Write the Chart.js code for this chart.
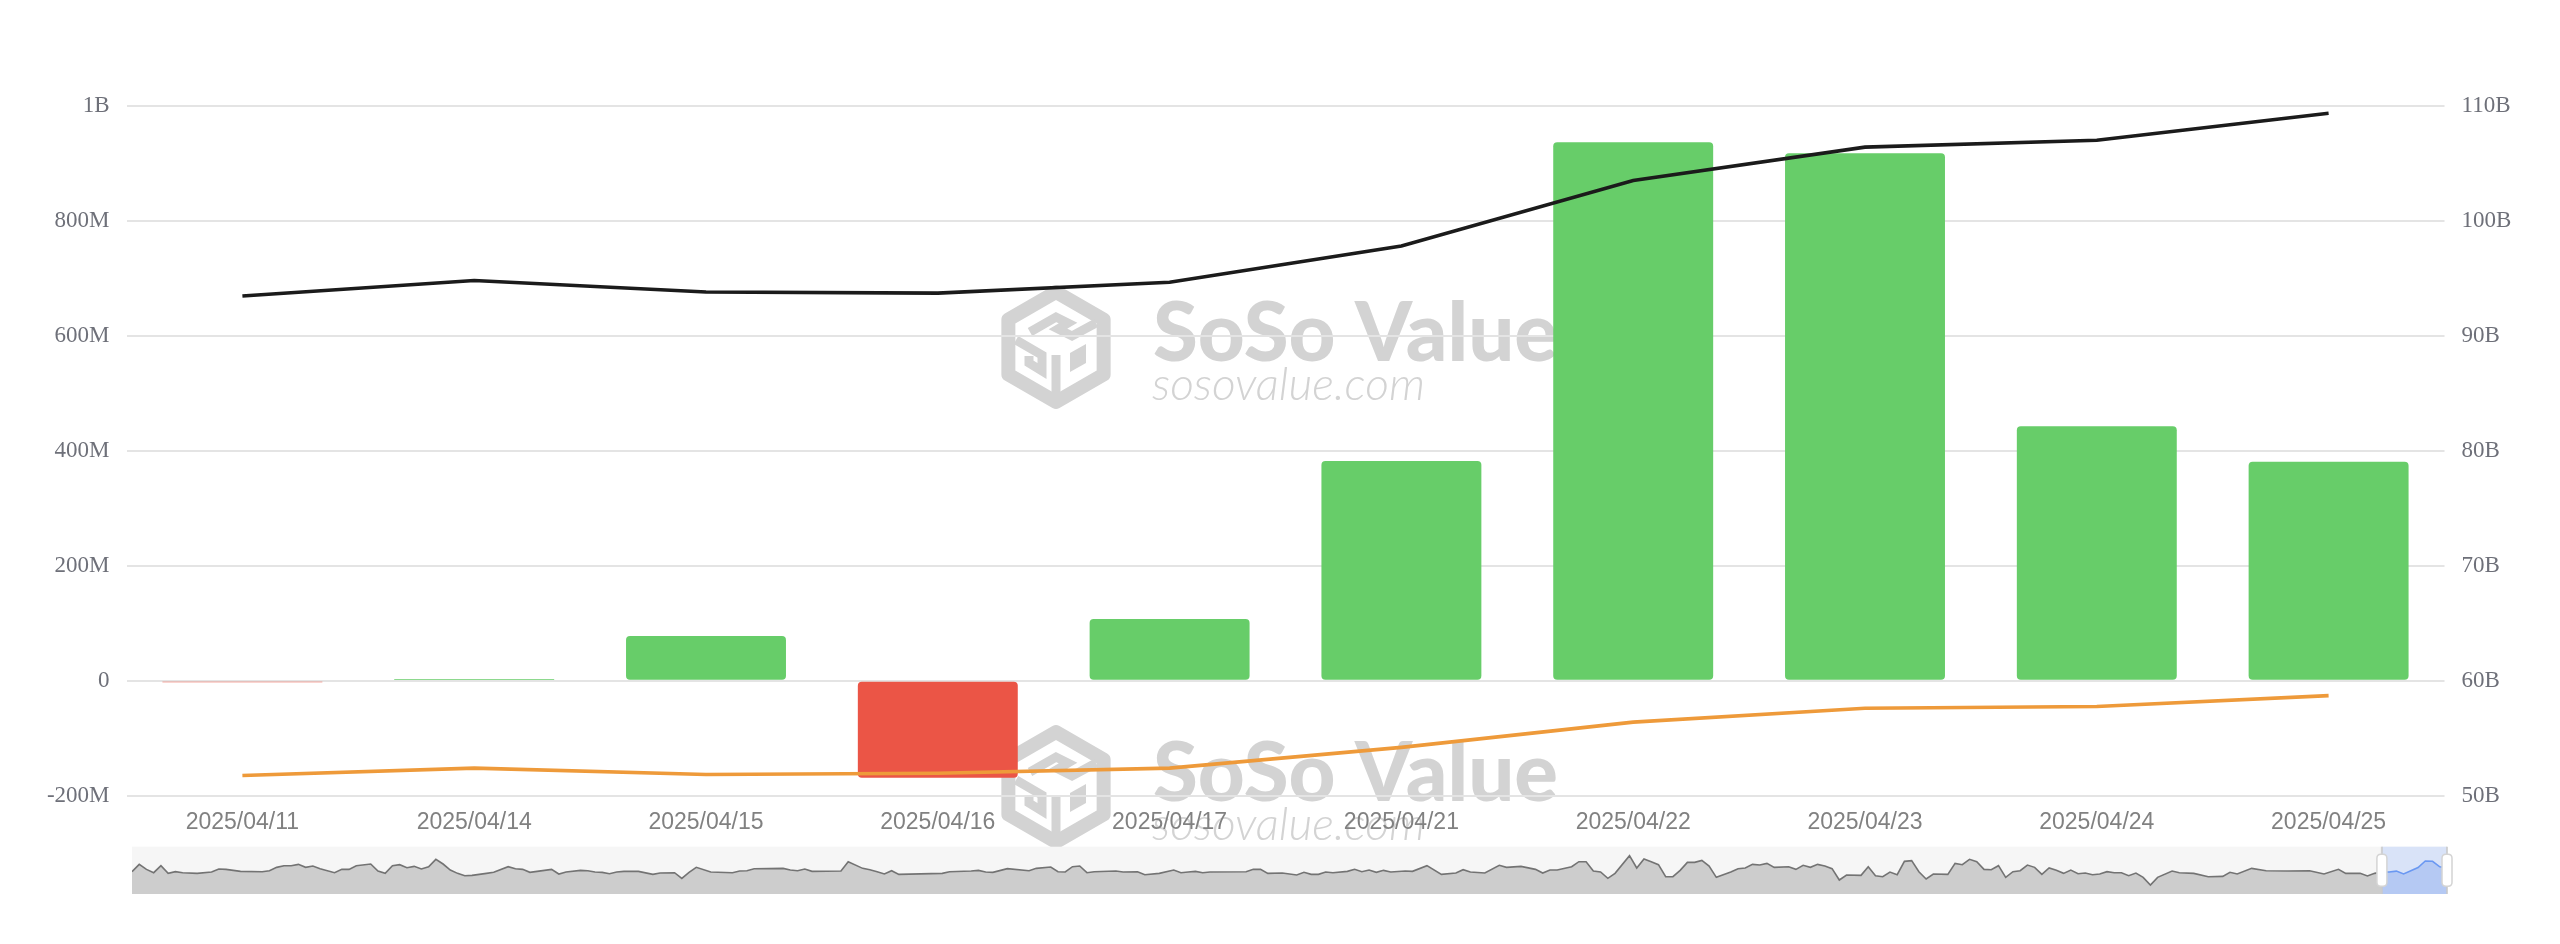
<!DOCTYPE html>
<html><head><meta charset="utf-8">
<script src="https://cdn.jsdelivr.net/npm/chart.js@4.4.1/dist/chart.umd.min.js"></script>
<style>
html,body{margin:0;padding:0;background:#fff;}
#wrap{position:relative;width:2560px;height:944px;overflow:hidden;}
#main{position:absolute;left:0;top:0;}
#mini{position:absolute;left:0;top:830px;}
</style></head><body>
<div id="wrap"><canvas id="main" width="2560" height="944"></canvas><canvas id="mini" width="2560" height="80"></canvas></div>
<script>
// ---- data ----
const categories = ['2025/04/11','2025/04/14','2025/04/15','2025/04/16','2025/04/17','2025/04/21','2025/04/22','2025/04/23','2025/04/24','2025/04/25'];
// daily total net inflow (USD millions), left axis
const netInflow = [-1.5, 1.5, 77.7, -168.7, 107.4, 381.9, 936.5, 917.1, 442.6, 380.6];
// total net assets (USD billions), right axis
const totalNetAssets = [93.45, 94.8, 93.8, 93.7, 94.65, 97.8, 103.5, 106.4, 107.0, 109.35];
// cumulative total net inflow (USD billions), right axis
const cumulativeInflow = [51.75, 52.4, 51.85, 51.95, 52.4, 54.2, 56.4, 57.6, 57.75, 58.7];
// axis ticks
const leftTicks = {min:-200, max:1000, step:200};
const rightTicks = {min:50, max:110, step:10};
// history shown in the zoom slider: trading-day index and daily net inflow (USD millions)
const miniDays = [0,1,2,3,4,5,6,7,9,11,12,13,15,18,19,20,21,22,23,24,25,26,28,29,30,31,33,34,35,36,37,38,39,40,41,42,43,44,45,46,47,49,50,52,53,54,55,56,58,59,60,62,63,64,65,66,67,68,70,
72,73,75,76,77,78,80,83,84,85,86,90,91,92,93,94,98,99,101,102,103,104,105,106,112,113,116,117,118,119,121,124,125,127,128,129,130,131,132,133,136,137,139,140,142,
144,145,146,147,148,149,154,155,156,157,159,161,162,163,164,165,166,168,169,170,171,172,173,174,176,177,179,181,183,184,185,187,189,190,192,194,195,196,197,199,200,201,202,203,204,205,207,208,209,210,211,212,213,214,
215,216,217,218,219,221,222,223,224,225,226,227,229,230,231,232,233,234,235,236,237,239,240,241,242,243,244,245,246,247,248,249,251,252,253,254,255,256,257,258,259,260,261,262,263,264,265,266,267,268,269,270,271,272,273,274,275,276,277,278,279,280,282,283,
285,287,289,290,291,293,295,298,301,303,305,306,308,309,310];
const miniFlow = [28,653,227,-57,540,-114,28,-57,-114,0,256,227,57,28,114,398,540,540,653,398,511,284,-57,227,227,540,682,85,-114,540,625,369,483,256,454,1079,682,170,-114,-312,-284,-114,-28,454,284,227,-28,57,227,-170,0,142,114,0,-28,-142,0,57,57,
-199,-85,-57,-540,-28,398,0,-57,85,114,284,312,170,114,256,57,85,880,312,199,28,-170,114,-199,-114,28,85,142,0,-28,284,114,312,426,28,0,454,511,-57,28,85,0,28,-227,-114,
170,-57,0,57,-57,0,28,227,227,-114,-85,-256,-28,-199,-199,0,-57,57,227,28,170,-28,142,0,85,57,540,-199,-85,199,0,-85,568,398,483,227,-85,170,170,454,880,880,85,0,-540,-114,1392,341,1108,880,625,-398,-398,142,
824,824,994,511,-454,0,284,341,653,596,738,398,454,227,568,398,653,511,284,-682,-256,-284,454,-312,-398,0,-227,909,966,28,-596,-170,-199,738,625,1079,880,227,199,540,-454,28,114,596,398,-199,341,142,-114,170,-142,-85,-227,-170,28,-57,-57,-312,-85,-454,-1108,-454,85,-57,
-114,-398,-369,-28,-170,312,114,85,114,-170,227,-114,-114,-341,-114];
const selectedStartDay = 311;
const miniRange = {xMin:0, xMax:320, yMin:-1874, yMax:2158};

// ---- helpers ----
function fmtLeft(v){
  if (v === 0) return '0';
  if (Math.abs(v) >= 1000) return (v/1000) + 'B';
  return v + 'M';
}

function drawLogo(ctx, cx, cy){
  ctx.save();
  ctx.translate(cx, cy);
  ctx.strokeStyle = '#d3d3d3';
  ctx.fillStyle = '#d3d3d3';
  ctx.lineJoin = 'round';
  ctx.lineCap = 'butt';
  const R = 55;
  ctx.lineWidth = 14;
  ctx.beginPath();
  for (let i = 0; i < 6; i++){
    const a = -Math.PI/2 + i*Math.PI/3;
    const px = R*Math.cos(a), py = R*Math.sin(a);
    if (i === 0) ctx.moveTo(px, py); else ctx.lineTo(px, py);
  }
  ctx.closePath();
  ctx.stroke();
  ctx.lineWidth = 9;
  ctx.lineJoin = 'miter';
  ctx.beginPath();
  ctx.moveTo(-26,-15); ctx.lineTo(0,-30); ctx.lineTo(12,-24); ctx.lineTo(2,-18); ctx.lineTo(16,-11); ctx.lineTo(40,-24);
  ctx.stroke();
  ctx.beginPath();
  ctx.moveTo(-40,-7); ctx.lineTo(-14,8); ctx.lineTo(-14,24); ctx.lineTo(-27,16); ctx.lineTo(-27,9);
  ctx.stroke();
  ctx.beginPath();
  ctx.moveTo(0,8); ctx.lineTo(0,48);
  ctx.stroke();
  ctx.beginPath();
  ctx.moveTo(14,6); ctx.lineTo(30,-3); ctx.lineTo(30,16); ctx.lineTo(14,25); ctx.closePath();
  ctx.fill();
  ctx.restore();
}

function fitFont(ctx, style, family, text, targetW, guess){
  ctx.font = style + ' ' + guess + 'px ' + family;
  const w = ctx.measureText(text).width;
  const size = guess * targetW / w;
  ctx.font = style + ' ' + size.toFixed(2) + 'px ' + family;
}

function drawWatermark(ctx, cy){
  drawLogo(ctx, 1056, cy);
  ctx.save();
  ctx.fillStyle = '#d3d3d3';
  ctx.textBaseline = 'alphabetic';
  ctx.textAlign = 'left';
  fitFont(ctx, '900', 'Lato, "Liberation Sans", sans-serif', 'SoSo Value', 405, 85);
  ctx.fillText('SoSo Value', 1153, cy + 14);
  fitFont(ctx, 'italic 300', 'Lato, "Liberation Sans", sans-serif', 'sosovalue.com', 273, 46);
  ctx.fillText('sosovalue.com', 1152, cy + 53);
  ctx.restore();
}

const watermarkPlugin = {
  id:'watermark',
  beforeDraw(chart){
    const ctx = chart.ctx;
    drawWatermark(ctx, 347);
    drawWatermark(ctx, 787);
  }
};

// ---- main chart ----
const barColors = netInflow.map(v => v >= 0 ? '#67CD69' : '#EB5546');
new Chart(document.getElementById('main'), {
  type:'bar',
  data:{
    labels: categories,
    datasets:[
      {type:'line', label:'Total Net Assets', data: totalNetAssets, yAxisID:'y1', borderColor:'#1b1b1b', borderWidth:3.6, pointRadius:0, tension:0, order:0},
      {type:'line', label:'Cumulative Total Net Inflow', data: cumulativeInflow, yAxisID:'y1', borderColor:'#EE9A3A', borderWidth:3.6, pointRadius:0, tension:0, order:0},
      {type:'bar', label:'Daily Total Net Inflow', data: netInflow, yAxisID:'y', backgroundColor: barColors,
       borderRadius: ctx => Math.abs(ctx.raw) < 10 ? 0 : 4, borderSkipped:false, minBarLength:1.6,
       barPercentage:0.69, categoryPercentage:1, order:1}
    ]
  },
  options:{
    responsive:false, devicePixelRatio:1, animation:false,
    layout:{padding:{left:0,right:0,top:105.7,bottom:0}},
    plugins:{legend:{display:false}, tooltip:{enabled:false}},
    scales:{
      x:{
        grid:{display:false, drawTicks:false}, border:{display:false},
        ticks:{font:{family:'"Liberation Sans", Arial, sans-serif', size:23}, color:'#818181', padding:13, maxRotation:0, autoSkip:false},
        afterFit(s){ s.height = 148.3; }
      },
      y:{
        position:'left', min:leftTicks.min, max:leftTicks.max,
        ticks:{stepSize:leftTicks.step, font:{family:'"Liberation Serif", "Times New Roman", serif', size:23}, color:'#6E7079', padding:17, callback: fmtLeft},
        grid:{color:'#e4e4e4', lineWidth:2, drawTicks:false}, border:{display:false},
        afterFit(s){ s.width = 126.5; }
      },
      y1:{
        position:'right', min:rightTicks.min, max:rightTicks.max,
        ticks:{stepSize:rightTicks.step, font:{family:'"Liberation Serif", "Times New Roman", serif', size:23}, color:'#6E7079', padding:17, callback: v => v + 'B'},
        grid:{display:false, drawTicks:false}, border:{display:false},
        afterFit(s){ s.width = 115.5; }
      }
    }
  },
  plugins:[watermarkPlugin]
});

// ---- zoom slider (mini chart) ----
const historyPts = miniDays.map((d,i) => ({x:d, y:miniFlow[i]}));
const selectedPts = netInflow.map((v,i) => ({x:selectedStartDay + i, y:v}));
const greyPts = historyPts.concat([selectedPts[0]]);

function drawHandle(ctx, x, top, bottom){
  ctx.save();
  ctx.strokeStyle = 'rgba(200,200,200,0.8)';
  ctx.lineWidth = 2;
  ctx.beginPath(); ctx.moveTo(x, top); ctx.lineTo(x, bottom); ctx.stroke();
  const w = 10, h = 32, mid = (top + bottom)/2;
  const rx = x - w/2, ry = mid - h/2, r = 4;
  ctx.beginPath();
  ctx.moveTo(rx + r, ry);
  ctx.lineTo(rx + w - r, ry); ctx.quadraticCurveTo(rx + w, ry, rx + w, ry + r);
  ctx.lineTo(rx + w, ry + h - r); ctx.quadraticCurveTo(rx + w, ry + h, rx + w - r, ry + h);
  ctx.lineTo(rx + r, ry + h); ctx.quadraticCurveTo(rx, ry + h, rx, ry + h - r);
  ctx.lineTo(rx, ry + r); ctx.quadraticCurveTo(rx, ry, rx + r, ry);
  ctx.closePath();
  ctx.fillStyle = '#ffffff';
  ctx.fill();
  ctx.strokeStyle = '#d4d4d4';
  ctx.lineWidth = 1.5;
  ctx.stroke();
  ctx.restore();
}

const sliderPlugin = {
  id:'slider',
  beforeDraw(chart){
    const {ctx, chartArea:a} = chart;
    ctx.save();
    ctx.fillStyle = '#f6f6f6';
    ctx.fillRect(a.left, a.top, a.right - a.left, a.bottom - a.top);
    ctx.restore();
  },
  beforeDatasetsDraw(chart){
    const {ctx, chartArea:a, scales} = chart;
    const x0 = scales.x.getPixelForValue(selectedStartDay);
    ctx.save();
    ctx.fillStyle = '#d9e3f8';
    ctx.fillRect(x0, a.top, a.right - x0, a.bottom - a.top);
    ctx.restore();
  },
  afterDraw(chart){
    const {ctx, chartArea:a, scales} = chart;
    const x0 = scales.x.getPixelForValue(selectedStartDay);
    const x1 = scales.x.getPixelForValue(selectedStartDay + netInflow.length - 1);
    drawHandle(ctx, x0, a.top, a.bottom);
    drawHandle(ctx, x1, a.top, a.bottom);
  }
};

new Chart(document.getElementById('mini'), {
  type:'line',
  data:{
    datasets:[
      {data: greyPts, borderColor:'#737373', borderWidth:1.6, backgroundColor:'#cdcdcd', fill:'start', pointRadius:0, tension:0},
      {data: selectedPts, borderColor:'#6a98f2', borderWidth:1.6, backgroundColor:'#b5c9f3', fill:'start', pointRadius:0, tension:0}
    ]
  },
  options:{
    responsive:false, devicePixelRatio:1, animation:false,
    layout:{padding:{left:132, right:113, top:16.7, bottom:16}},
    plugins:{legend:{display:false}, tooltip:{enabled:false}},
    scales:{
      x:{type:'linear', display:false, min:miniRange.xMin, max:miniRange.xMax},
      y:{display:false, min:miniRange.yMin, max:miniRange.yMax}
    }
  },
  plugins:[sliderPlugin]
});
</script>
</body></html>
